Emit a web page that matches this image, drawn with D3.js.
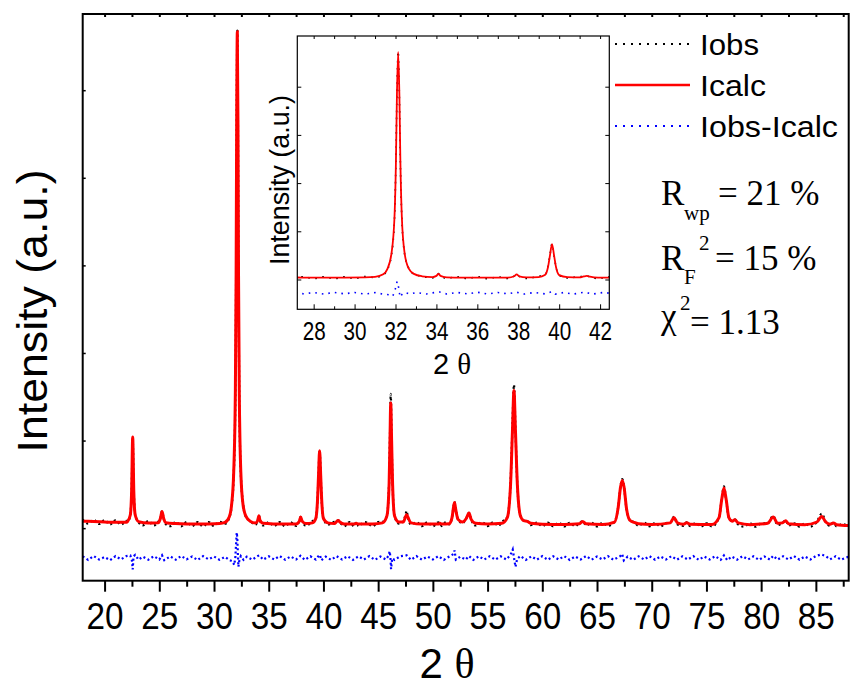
<!DOCTYPE html>
<html>
<head>
<meta charset="utf-8">
<script src="https://cdn.jsdelivr.net/npm/d3@7"></script>
<style>
  body { margin: 0; background: #fff; }
  text { font-family: "Liberation Sans", Arial, sans-serif; }
  .serif { font-family: "Liberation Serif", "Times New Roman", serif; }
</style>
</head>
<body>
<div id="chart"></div>
<script>
// 2-theta ticks
var mainMajor = [20, 25, 30, 35, 40, 45, 50, 55, 60, 65, 70, 75, 80, 85];
var mainMinor = [22.5, 27.5, 32.5, 37.5, 42.5, 47.5, 52.5, 57.5, 62.5, 67.5, 72.5, 77.5, 82.5, 87.5];
var mainYTicks = [0, 1000, 2000, 3000, 4000, 5000];
var insetMajor = [28, 30, 32, 34, 36, 38, 40, 42];
var insetMinor = [29, 31, 33, 35, 37, 39, 41];
var insetYTicks = [0, 1200, 2400, 3600, 4800];

// calculated profile [2theta, intensity]
var icalc = [
  [18.0, 80], [19.0, 75], [20.0, 70], [21.0, 66], [22.0, 66],
  [22.1, 75], [22.35, 150], [22.47, 420], [22.57, 1040], [22.67, 420], [22.8, 150], [23.1, 75],
  [24.0, 58], [24.9, 62], [25.1, 110], [25.25, 191], [25.4, 110], [25.6, 62],
  [26.5, 52], [27.5, 48], [28.5, 47], [29.5, 48], [30.5, 52], [31.0, 65],
  [31.4, 130], [31.6, 260], [31.8, 640], [31.95, 1550], [32.02, 2900], [32.07, 4600], [32.13, 5668],
  [32.19, 4600], [32.24, 2900], [32.31, 1550], [32.45, 640], [32.65, 270], [32.9, 140], [33.3, 80],
  [33.8, 60], [34.0, 90], [34.1, 142], [34.2, 90], [34.5, 55], [35.5, 48], [36.5, 46], [37.5, 48],
  [37.8, 80], [37.92, 127], [38.05, 80], [38.4, 52], [39.0, 60],
  [39.3, 110], [39.45, 300], [39.55, 600], [39.65, 883], [39.75, 600], [39.85, 300], [40.0, 110], [40.4, 60],
  [41.0, 52], [41.2, 75], [41.35, 88], [41.5, 70], [41.9, 48], [42.8, 46], [43.0, 55], [43.2, 46],
  [44.5, 48], [45.4, 60], [45.8, 140], [46.0, 500], [46.08, 1000], [46.15, 1428], [46.23, 1000],
  [46.32, 500], [46.5, 140], [46.9, 70], [47.3, 70], [47.5, 130], [47.6, 153], [47.7, 130], [48.0, 60],
  [49.0, 46], [50.5, 46], [50.65, 55], [50.8, 46], [51.5, 50],
  [51.75, 120], [51.9, 250], [51.98, 293], [52.08, 220], [52.3, 100], [52.7, 70],
  [53.05, 110], [53.3, 172], [53.5, 100], [53.9, 55], [55.0, 48], [56.3, 55],
  [56.8, 120], [57.1, 500], [57.27, 1100], [57.41, 1572], [57.55, 1100], [57.72, 500], [58.0, 140],
  [58.3, 85], [58.63, 77], [58.95, 55], [60.0, 45], [62.0, 42], [63.4, 50], [63.69, 77], [64.0, 50],
  [65.5, 42], [66.6, 70], [66.95, 250], [67.15, 470], [67.31, 545], [67.47, 470], [67.7, 220],
  [68.0, 90], [68.4, 65], [68.8, 50], [70.0, 42], [71.7, 60], [72.03, 122], [72.35, 60], [72.9, 45],
  [73.2, 62], [73.5, 45], [75.5, 42], [76.15, 120], [76.4, 330], [76.6, 458], [76.8, 330], [77.05, 120],
  [77.35, 80], [77.6, 96], [77.9, 60], [79.0, 40], [80.6, 55], [81.1, 127], [81.5, 55], [81.95, 60],
  [82.24, 85], [82.5, 50], [84.0, 38], [85.1, 70], [85.53, 134], [85.9, 70], [86.3, 45], [86.6, 60],
  [86.9, 40], [88.0, 30]
];

// observed pattern [2theta, intensity]
var iobs = [
  [18.0, 100], [18.5, 52], [19.0, 96], [19.5, 48], [20.0, 92], [20.5, 42], [21.0, 90], [21.5, 40], [22.0, 84],
  [22.1, 75], [22.35, 150], [22.47, 420], [22.57, 1020], [22.67, 420], [22.8, 150], [23.1, 70],
  [23.5, 32], [24.0, 82], [24.5, 30], [24.9, 74], [25.1, 110], [25.25, 195], [25.4, 110], [25.6, 45],
  [26.0, 22], [26.5, 72], [27.0, 20], [27.5, 70], [28.0, 22], [28.5, 68], [29.0, 20], [29.5, 70], [30.0, 24],
  [30.5, 74], [31.0, 50],
  [31.4, 120], [31.6, 240], [31.8, 600], [31.95, 1500], [32.02, 2950], [32.07, 4620], [32.13, 5680],
  [32.19, 4550], [32.24, 2850], [32.31, 1520], [32.45, 620], [32.65, 280], [32.9, 135], [33.3, 82],
  [33.8, 40], [34.0, 92], [34.1, 145], [34.2, 88], [34.5, 30], [35.0, 66], [35.5, 24], [36.0, 68],
  [36.5, 22], [37.0, 66], [37.5, 26],
  [37.8, 82], [37.92, 130], [38.05, 78], [38.4, 28], [39.0, 80],
  [39.3, 112], [39.45, 305], [39.55, 610], [39.65, 890], [39.75, 595], [39.85, 295], [40.0, 108], [40.4, 40],
  [41.0, 72], [41.2, 78], [41.35, 90], [41.5, 68], [41.9, 22], [42.4, 70], [42.8, 22], [43.0, 70],
  [43.2, 24], [43.8, 70], [44.5, 22], [45.0, 70], [45.4, 72],
  [45.8, 140], [46.0, 520], [46.08, 1060], [46.15, 1534], [46.23, 1020], [46.32, 500], [46.5, 140], [46.9, 50],
  [47.3, 80], [47.5, 150], [47.6, 199], [47.7, 135], [48.0, 40], [48.5, 68], [49.0, 22], [49.5, 68],
  [50.0, 22], [50.5, 66], [50.65, 58], [50.8, 24], [51.2, 70], [51.5, 44],
  [51.75, 122], [51.9, 255], [51.98, 300], [52.08, 222], [52.3, 102], [52.7, 56],
  [53.05, 112], [53.3, 176], [53.5, 98], [53.9, 30], [54.5, 68], [55.0, 24], [55.5, 68], [56.0, 26], [56.3, 70],
  [56.8, 125], [57.1, 520], [57.27, 1150], [57.41, 1637], [57.55, 1110], [57.72, 490], [58.0, 145],
  [58.3, 88], [58.63, 82], [58.95, 34],
  [59.5, 64], [60.0, 22], [60.5, 62], [61.0, 20], [61.5, 62], [62.0, 20], [62.5, 60], [63.0, 22],
  [63.4, 62], [63.69, 80], [64.0, 30], [64.5, 62], [65.0, 20], [65.5, 60], [66.0, 26],
  [66.6, 72], [66.95, 255], [67.15, 480], [67.31, 560], [67.47, 465], [67.7, 215], [68.0, 92],
  [68.4, 68], [68.8, 28], [69.3, 62], [69.8, 20], [70.3, 58], [70.8, 18], [71.3, 58],
  [71.7, 62], [72.03, 130], [72.35, 42], [72.9, 26], [73.2, 65], [73.5, 24], [74.0, 58], [74.5, 18],
  [75.0, 56], [75.5, 20],
  [76.15, 122], [76.4, 335], [76.6, 476], [76.8, 325], [77.05, 118], [77.35, 82], [77.6, 100], [77.9, 42],
  [78.4, 18], [79.0, 56], [79.5, 16], [80.0, 54], [80.6, 58],
  [81.1, 140], [81.5, 34], [81.95, 62], [82.24, 88], [82.5, 30], [83.0, 56], [83.5, 18], [84.0, 54], [84.5, 18],
  [85.1, 74], [85.53, 165], [85.9, 72], [86.3, 26], [86.6, 62], [86.9, 20], [87.4, 46], [88.0, 14]
];

// difference Iobs - Icalc, shifted below the patterns
var idiff = [
  [18.0, -322], [18.5, -362], [19.0, -318], [19.5, -358], [20.0, -330], [20.5, -366], [21.0, -320],
  [21.5, -356], [22.0, -318], [22.35, -312], [22.5, -370], [22.57, -470], [22.65, -320], [22.8, -305],
  [23.1, -360], [23.5, -326], [24.0, -360], [24.5, -320], [25.0, -358], [25.25, -310], [25.45, -366],
  [26.0, -322], [26.5, -360], [27.0, -318], [27.5, -356], [28.0, -324], [28.5, -364], [29.0, -320],
  [29.5, -356], [30.0, -324], [30.5, -362], [31.0, -328], [31.4, -364], [31.7, -380], [31.85, -420],
  [31.95, -330], [32.03, -150], [32.08, -50], [32.13, -120], [32.18, -300], [32.23, -440], [32.3, -380],
  [32.45, -320], [32.7, -362], [33.0, -326], [33.5, -360], [34.0, -318], [34.15, -312], [34.5, -360],
  [35.0, -322], [35.5, -358], [36.0, -318], [36.5, -360], [37.0, -324], [37.5, -358], [37.9, -316],
  [38.3, -362], [38.8, -322], [39.3, -358], [39.55, -318], [39.68, -305], [39.8, -366], [40.2, -326],
  [40.7, -362], [41.2, -320], [41.7, -358], [42.2, -320], [42.7, -362], [43.2, -322], [43.7, -358],
  [44.2, -320], [44.7, -362], [45.2, -324], [45.7, -358], [45.95, -315], [46.05, -265], [46.12, -330],
  [46.18, -468], [46.28, -345], [46.5, -362], [47.0, -322], [47.6, -310], [48.0, -362], [48.5, -320],
  [49.0, -360], [49.5, -324], [50.0, -358], [50.5, -320], [51.0, -362], [51.5, -324], [51.9, -295],
  [51.98, -255], [52.1, -360], [52.5, -326], [53.0, -360], [53.3, -318], [53.7, -362], [54.2, -322],
  [54.7, -358], [55.2, -320], [55.7, -360], [56.2, -322], [56.7, -358], [57.1, -305], [57.3, -245],
  [57.45, -365], [57.55, -442], [57.7, -352], [58.0, -318], [58.5, -362], [59.0, -322], [59.5, -360],
  [60.0, -320], [60.5, -362], [61.0, -322], [61.5, -358], [62.0, -320], [62.5, -362], [63.0, -324],
  [63.5, -358], [64.0, -318], [64.5, -360], [65.0, -324], [65.5, -358], [66.0, -320], [66.5, -362],
  [67.1, -322], [67.3, -295], [67.45, -368], [67.8, -326], [68.3, -362], [68.8, -322], [69.3, -358],
  [69.8, -320], [70.3, -360], [70.8, -324], [71.3, -358], [71.8, -320], [72.3, -360], [72.8, -322],
  [73.3, -358], [73.8, -320], [74.3, -362], [74.8, -324], [75.3, -358], [75.8, -320], [76.3, -362],
  [76.6, -312], [76.9, -366], [77.3, -324], [77.8, -360], [78.3, -320], [78.8, -358], [79.3, -322],
  [79.8, -362], [80.3, -324], [80.8, -358], [81.1, -315], [81.5, -360], [82.0, -322], [82.5, -358],
  [83.0, -320], [83.5, -360], [84.0, -324], [84.5, -358], [85.0, -318], [85.5, -300], [85.9, -318],
  [86.3, -356], [86.8, -322], [87.3, -360], [88.0, -326]
];

var legendNames = ["Iobs", "Icalc", "Iobs-Icalc"];

function init() {
    var w = 850;
    var h = 690;
    var left = 82.7, right = 848.7, top = 14, bottom = 580.7;

    var svg = d3.select("#chart")
        .append("svg")
        .attr("width", w)
        .attr("height", h);

    var x = d3.scaleLinear().domain([18, 88]).range([left, right]);
    var y = d3.scaleLinear().domain([-600, 5870]).range([bottom, top]);

    svg.append("clipPath").attr("id", "clipMain")
        .append("rect")
        .attr("x", left).attr("y", top)
        .attr("width", right - left).attr("height", bottom - top);

    function lineFor(sx, sy, curve) {
        return d3.line()
            .x(function (d) { return sx(d[0]); })
            .y(function (d) { return sy(d[1]); })
            .curve(curve);
    }

    var plot = svg.append("g").attr("clip-path", "url(#clipMain)");
    plot.append("path")
        .attr("d", lineFor(x, y, d3.curveLinear)(idiff))
        .attr("fill", "none").attr("stroke", "#0000ff")
        .attr("stroke-width", 2.2).attr("stroke-dasharray", "2 2.6");
    plot.append("path")
        .attr("d", lineFor(x, y, d3.curveMonotoneX)(iobs))
        .attr("fill", "none").attr("stroke", "#000")
        .attr("stroke-width", 2.2).attr("stroke-dasharray", "2 3");
    plot.append("path")
        .attr("d", lineFor(x, y, d3.curveMonotoneX)(icalc))
        .attr("fill", "none").attr("stroke", "#ff0000")
        .attr("stroke-width", 3);

    // main axes
    var xAxis = svg.append("g")
        .attr("transform", "translate(0," + bottom + ")")
        .call(d3.axisBottom(x).tickValues(mainMajor).tickSize(11).tickFormat(d3.format("d")));
    xAxis.select(".domain").remove();
    xAxis.selectAll("line").attr("stroke-width", 2);
    xAxis.selectAll("text")
        .attr("y", 48).attr("dy", null)
        .attr("font-size", 36)
        .attr("font-family", "Liberation Sans, Arial, sans-serif")
        .attr("textLength", 37).attr("lengthAdjust", "spacingAndGlyphs");

    var xMinor = svg.append("g")
        .attr("transform", "translate(0," + bottom + ")")
        .call(d3.axisBottom(x).tickValues(mainMinor).tickSize(6).tickFormat(""));
    xMinor.select(".domain").remove();
    xMinor.selectAll("line").attr("stroke-width", 2);

    var xTop = svg.append("g")
        .attr("transform", "translate(0," + top + ")")
        .call(d3.axisTop(x).tickValues(mainMajor.concat(mainMinor)).tickSize(-3).tickFormat(""));
    xTop.select(".domain").remove();
    xTop.selectAll("line").attr("stroke-width", 2);

    var yAxis = svg.append("g")
        .attr("transform", "translate(" + left + ",0)")
        .call(d3.axisLeft(y).tickValues(mainYTicks).tickSize(-3).tickFormat(""));
    yAxis.select(".domain").remove();
    yAxis.selectAll("line").attr("stroke-width", 1.5);

    svg.append("rect")
        .attr("x", left).attr("y", top)
        .attr("width", right - left).attr("height", bottom - top)
        .attr("fill", "none").attr("stroke", "#000").attr("stroke-width", 2);

    svg.append("text")
        .attr("transform", "translate(47,311) rotate(-90)")
        .attr("text-anchor", "middle")
        .attr("font-size", 42)
        .attr("textLength", 283).attr("lengthAdjust", "spacingAndGlyphs")
        .text("Intensity (a.u.)");

    var xt = svg.append("text")
        .attr("x", 447).attr("y", 678)
        .attr("text-anchor", "middle")
        .attr("font-size", 42);
    xt.append("tspan").text("2 ");
    xt.append("tspan").attr("class", "serif").text("\u03b8");

    // inset
    var il = 297.3, ir = 609.3, it = 36, ib = 309.3;
    var xi = d3.scaleLinear().domain([27.2, 42.45]).range([il, ir]);
    var yi = d3.scaleLinear().domain([-742, 6062]).range([ib, it]);

    svg.append("rect")
        .attr("x", il).attr("y", it)
        .attr("width", ir - il).attr("height", ib - it)
        .attr("fill", "#fff");

    svg.append("clipPath").attr("id", "clipInset")
        .append("rect")
        .attr("x", il).attr("y", it)
        .attr("width", ir - il).attr("height", ib - it);

    var inset = svg.append("g").attr("clip-path", "url(#clipInset)");
    inset.append("path")
        .attr("d", lineFor(xi, yi, d3.curveLinear)(idiff))
        .attr("fill", "none").attr("stroke", "#0000ff")
        .attr("stroke-width", 1.6).attr("stroke-dasharray", "1.6 5");
    inset.append("path")
        .attr("d", lineFor(xi, yi, d3.curveMonotoneX)(iobs))
        .attr("fill", "none").attr("stroke", "#000")
        .attr("stroke-width", 1.6).attr("stroke-dasharray", "1.6 5.5");
    inset.append("path")
        .attr("d", lineFor(xi, yi, d3.curveMonotoneX)(icalc))
        .attr("fill", "none").attr("stroke", "#ff0000")
        .attr("stroke-width", 1.8);

    var xiAxis = svg.append("g")
        .attr("transform", "translate(0," + ib + ")")
        .call(d3.axisBottom(xi).tickValues(insetMajor).tickSize(-5).tickFormat(d3.format("d")));
    xiAxis.select(".domain").remove();
    xiAxis.selectAll("text")
        .attr("y", 31).attr("dy", null)
        .attr("font-size", 26)
        .attr("font-family", "Liberation Sans, Arial, sans-serif")
        .attr("textLength", 23).attr("lengthAdjust", "spacingAndGlyphs");

    var xiMinor = svg.append("g")
        .attr("transform", "translate(0," + ib + ")")
        .call(d3.axisBottom(xi).tickValues(insetMinor).tickSize(-3).tickFormat(""));
    xiMinor.select(".domain").remove();

    var xiTop = svg.append("g")
        .attr("transform", "translate(0," + it + ")")
        .call(d3.axisTop(xi).tickValues(insetMajor.concat(insetMinor)).tickSize(-3).tickFormat(""));
    xiTop.select(".domain").remove();

    var yiLeft = svg.append("g")
        .attr("transform", "translate(" + il + ",0)")
        .call(d3.axisLeft(yi).tickValues(insetYTicks).tickSize(-4).tickFormat(""));
    yiLeft.select(".domain").remove();
    var yiRight = svg.append("g")
        .attr("transform", "translate(" + ir + ",0)")
        .call(d3.axisRight(yi).tickValues(insetYTicks).tickSize(-4).tickFormat(""));
    yiRight.select(".domain").remove();

    svg.append("rect")
        .attr("x", il).attr("y", it)
        .attr("width", ir - il).attr("height", ib - it)
        .attr("fill", "none").attr("stroke", "#000").attr("stroke-width", 1.2);

    svg.append("text")
        .attr("transform", "translate(289,180) rotate(-90)")
        .attr("text-anchor", "middle")
        .attr("font-size", 27)
        .attr("textLength", 170).attr("lengthAdjust", "spacingAndGlyphs")
        .text("Intensity (a.u.)");

    var xit = svg.append("text")
        .attr("x", 452).attr("y", 374)
        .attr("text-anchor", "middle")
        .attr("font-size", 29);
    xit.append("tspan").text("2 ");
    xit.append("tspan").attr("class", "serif").text("\u03b8");

    // legend
    var legY = [44, 85, 126];
    var legStyle = [
        { stroke: "#000", width: 2, dash: "2 6" },
        { stroke: "#ff0000", width: 2.5, dash: null },
        { stroke: "#0000ff", width: 2, dash: "2 6" }
    ];
    var legLen = [59, 66, 138];
    var leg = svg.selectAll(".leg")
        .data(legendNames)
        .enter()
        .append("g")
        .attr("class", "leg");
    leg.append("line")
        .attr("x1", 615).attr("x2", 690)
        .attr("y1", function (d, i) { return legY[i]; })
        .attr("y2", function (d, i) { return legY[i]; })
        .attr("stroke", function (d, i) { return legStyle[i].stroke; })
        .attr("stroke-width", function (d, i) { return legStyle[i].width; })
        .attr("stroke-dasharray", function (d, i) { return legStyle[i].dash; });
    leg.append("text")
        .attr("x", 700)
        .attr("y", function (d, i) { return legY[i] + 11; })
        .attr("font-size", 29)
        .attr("textLength", function (d, i) { return legLen[i]; })
        .attr("lengthAdjust", "spacingAndGlyphs")
        .text(function (d) { return d; });

    // refinement factors
    var r1 = svg.append("g").attr("class", "serif");
    r1.append("text").attr("class", "serif").attr("x", 661).attr("y", 205).attr("font-size", 35).text("R");
    r1.append("text").attr("class", "serif").attr("x", 684).attr("y", 220).attr("font-size", 21).text("wp");
    r1.append("text").attr("class", "serif").attr("x", 718).attr("y", 205).attr("font-size", 35).text("= 21 %");

    r1.append("text").attr("class", "serif").attr("x", 661).attr("y", 270).attr("font-size", 35).text("R");
    r1.append("text").attr("class", "serif").attr("x", 684).attr("y", 284).attr("font-size", 21).text("F");
    r1.append("text").attr("class", "serif").attr("x", 699).attr("y", 250).attr("font-size", 21).text("2");
    r1.append("text").attr("class", "serif").attr("x", 715).attr("y", 270).attr("font-size", 35).text("= 15 %");

    r1.append("text").attr("class", "serif").attr("x", 661).attr("y", 328).attr("font-size", 35).text("\u03c7");
    r1.append("text").attr("class", "serif").attr("x", 680).attr("y", 310).attr("font-size", 21).text("2");
    r1.append("text").attr("class", "serif").attr("x", 690).attr("y", 334).attr("font-size", 35).text("= 1.13");
}
window.onload = init;
</script>
</body>
</html>
